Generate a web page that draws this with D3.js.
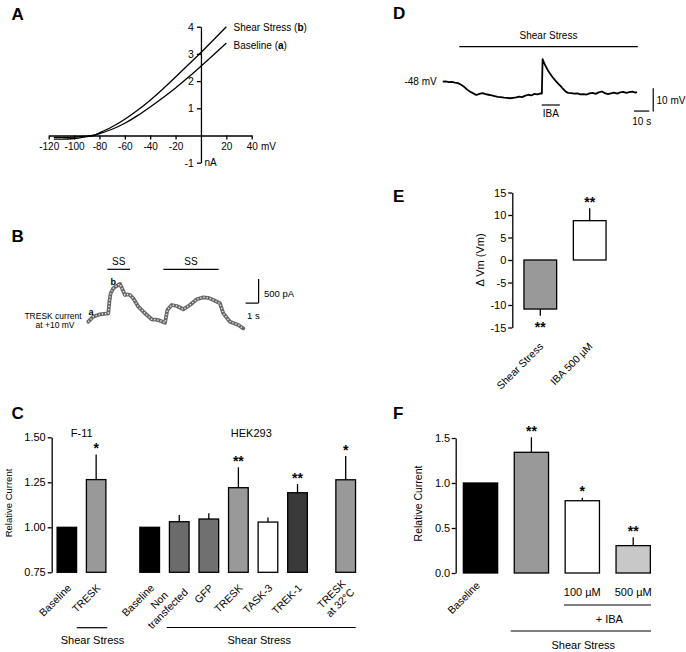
<!DOCTYPE html>
<html><head><meta charset="utf-8">
<script src="https://cdn.jsdelivr.net/npm/d3@7"></script>
<style>
body{margin:0;background:#fff}
svg{display:block;background:#fff}
text{font-family:'Liberation Sans',Arial,Helvetica,sans-serif;fill:#000}
</style>
</head><body><script>
// ---------- Panel A: I-V curves ----------
const ivVoltage  = [-116,-110,-100,-90,-85,-80,-70,-60,-50,-40,-30,-20,-10,0,10,20];
const ivShear    = [-0.07,-0.07,-0.06,-0.02,0.0,0.1,0.32,0.6,0.93,1.3,1.71,2.15,2.6,3.05,3.52,4.0];
const ivBaseline = [-0.13,-0.13,-0.11,-0.04,0.0,0.07,0.23,0.45,0.73,1.05,1.39,1.75,2.14,2.55,2.97,3.4];
const ivXTicks = [-120,-100,-80,-60,-40,-20,20,40];
const ivYTicks = [-1,1,2,3,4];

// ---------- Panel B: TRESK current trace ----------
const trTime    = [0,0.38,0.9,1.54,1.62,1.72,1.92,2.18,2.44,2.65,2.82,3.0,3.21,3.46,3.85,4.36,4.88,5.2,5.52,5.9,6.08,6.42,6.8,7.31,7.82,8.34,8.85,9.2,9.49,10.13,10.38,10.9,11.54,11.92];
const trCurrent = [173,277,327,348,590,765,869,917,958,833,729,740,729,660,485,348,223,215,194,152,417,521,500,431,521,640,681,670,640,556,348,173,104,35];
const ssPeriods = [[1.46,3.21],[5.77,10.03]];

// ---------- Panel C ----------
const cCategories = ["Baseline","TRESK","Baseline","Non|transfected","GFP","TRESK","TASK-3","TREK-1","TRESK|at 32°C"];
const cGroup      = ["f11","f11","hek","hek","hek","hek","hek","hek","hek32"];
const cValues     = [1.00,1.265,1.00,1.031,1.046,1.22,1.029,1.192,1.264];
const cErrors     = [0,0.14,0,0.037,0.032,0.113,0.026,0.048,0.132];
const cStars      = ["","*","","","","**","","**","*"];
const cFills      = ["#000","#999","#000","#6b6b6b","#707070","#999","#fff","#3a3a3a","#999"];
const cYTicks     = [0.75,1.00,1.25,1.50];

// ---------- Panel D: membrane potential trace ----------
const dTime = [0,2,4,6,8,10,12,14,16,18,20,22,24,26,28,30,32,34,36,38,40,42,44,46,48,50,52,54,56,58,60,62,64,64.8,65.3,66,67,68,69,70,71,72,73,74,75,76,77,78,79,80,81,82,84,86,88,90,92,94,96,98,100,102,104,106,108,110,112,114,116,118,120,122,124,126,127];
const dVm   = [-48.0,-47.9,-48.2,-48.1,-48.4,-48.6,-49.3,-50.2,-51.4,-52.3,-53.0,-53.7,-53.2,-52.9,-53.3,-53.6,-53.9,-54.2,-54.5,-54.6,-54.8,-54.9,-55.1,-54.9,-54.7,-54.4,-54.6,-54.0,-53.6,-53.9,-53.2,-53.4,-53.0,-53.1,-38.3,-39.5,-41.0,-42.2,-43.4,-44.4,-45.3,-46.2,-47.0,-47.8,-48.5,-49.2,-49.8,-50.6,-51.3,-52.0,-52.5,-52.8,-52.9,-53.1,-53.0,-53.4,-53.3,-53.5,-53.0,-52.8,-53.2,-52.6,-52.2,-52.9,-53.3,-53.0,-52.7,-53.1,-52.6,-52.4,-52.8,-52.5,-52.3,-52.7,-52.4];
const dShearPeriod = [10.8,127.5];
const dIbaPeriod   = [64.7,76.6];

// ---------- Panel E ----------
const eCategories = ["Shear Stress","IBA 500 µM"];
const eValues = [-10.9,8.74];
const eErrors = [1.5,2.76];
const eStars  = ["**","**"];
const eFills  = ["#999","#fff"];
const eYTicks = [-15,-10,-5,0,5,10,15];

// ---------- Panel F ----------
const fCategories = ["Baseline","Shear","100 µM","500 µM"];
const fValues = [1.00,1.341,0.803,0.304];
const fErrors = [0,0.167,0.033,0.093];
const fStars  = ["","**","*","**"];
const fFills  = ["#000","#999","#fff","#c8c8c8"];
const fYTicks = [0,0.5,1.0,1.5];

// =====================================================
const svg = d3.select('body').append('svg').attr('width',686).attr('height',652);
const plain = d => String(d);

function txt(x,y,s,size,anchor,bold){
  const t = svg.append('text').attr('x',x).attr('y',y).attr('font-size',size).attr('text-anchor',anchor||'start').text(s);
  if(bold) t.attr('font-weight','bold');
  return t;
}
function ln(x1,y1,x2,y2,w){
  svg.append('line').attr('x1',x1).attr('y1',y1).attr('x2',x2).attr('y2',y2).attr('stroke','#000').attr('stroke-width',w||1.2);
}
function styleAxis(g,size){
  g.selectAll('path.domain').attr('stroke','#000').attr('stroke-width',1.3);
  g.selectAll('.tick line').attr('stroke','#000').attr('stroke-width',1.3);
  g.selectAll('.tick text').attr('font-size',size);
}
function rotLabel(x,y,lines,size){
  const g = svg.append('g').attr('transform',`translate(${x},${y}) rotate(-45)`);
  const lh = size*1.15, n = lines.length;
  const ts = lines.map((s,i)=>g.append('text').attr('font-size',size).attr('y',(i-(n-1)/2)*lh).attr('dy','0.35em').text(s));
  const maxL = d3.max(ts.map(t=>t.node().getComputedTextLength()));
  ts.forEach(t=>t.attr('text-anchor','middle').attr('x',-maxL/2));
}
function vLabel(x,y,s,size){
  svg.append('text').attr('transform',`translate(${x},${y}) rotate(-90)`).attr('text-anchor','middle').attr('font-size',size).text(s);
}

// Panel letters
[["A",11.5,19.5],["B",11.5,241.5],["C",11.5,418.5],["D",393,18.5],["E",393,201.5],["F",393,418.5]]
  .forEach(([s,x,y])=>txt(x,y,s,17,'start',true));

// ---------- Panel A ----------
{
  const xA = d3.scaleLinear().domain([-120,40]).range([48.7,251.7]);
  const yA = d3.scaleLinear().domain([-1,4]).range([162.7,26.7]);
  const gx = svg.append('g').attr('transform',`translate(0,${yA(0)})`)
    .call(d3.axisBottom(xA).tickValues(ivXTicks).tickFormat(plain).tickSize(4).tickSizeOuter(0).tickPadding(3));
  styleAxis(gx,10);
  const gy = svg.append('g').attr('transform',`translate(${xA(0)},0)`)
    .call(d3.axisLeft(yA).tickValues(ivYTicks).tickFormat(plain).tickSize(4).tickSizeOuter(0).tickPadding(3));
  styleAxis(gy,10.5);
  txt(261,150.3,"mV",10);
  txt(204.5,166.3,"nA",10);
  const line = d3.line().x(d=>xA(d[0])).y(d=>yA(d[1])).curve(d3.curveMonotoneX);
  [ivShear,ivBaseline].forEach(arr=>{
    svg.append('path').attr('d',line(ivVoltage.map((v,i)=>[v,arr[i]]))).attr('fill','none').attr('stroke','#000').attr('stroke-width',1.3);
  });
  const t1 = txt(233.5,30.8,"Shear Stress (",10);
  t1.append('tspan').attr('font-weight','bold').text('b'); t1.append('tspan').text(')');
  const t2 = txt(233.5,49.3,"Baseline (",10);
  t2.append('tspan').attr('font-weight','bold').text('a'); t2.append('tspan').text(')');
}

// ---------- Panel B ----------
{
  const xB = d3.scaleLinear().domain([0,12]).range([88.3,244.3]);
  const yB = d3.scaleLinear().domain([0,1000]).range([330,282]);
  const line = d3.line().x((d,i)=>xB(trTime[i])).y((d,i)=>yB(trCurrent[i]));
  const d = line(trTime);
  svg.append('path').attr('d',d).attr('fill','none').attr('stroke','#666').attr('stroke-width',3.8).attr('stroke-linejoin','round').attr('stroke-linecap','round');
  svg.append('path').attr('d',d).attr('fill','none').attr('stroke','#e4e4e4').attr('stroke-width',1.5).attr('stroke-dasharray','1.3 1.9');
  ssPeriods.forEach(([a,b])=>{
    ln(xB(a),269.3,xB(b),269.3,1.2);
    txt((xB(a)+xB(b))/2,265.3,"SS",10,'middle');
  });
  // scale bars: 1 s, 500 pA
  ln(xB(12.1),yB(560),xB(13.1),yB(560),1.2);
  ln(xB(13.1),yB(560),xB(13.1),yB(1060),1.2);
  txt(264,296.5,"500 pA",9.5);
  txt(247,318.5,"1 s",9.5);
  txt(53,319,"TRESK current",8.5,'middle');
  txt(55,328.3,"at +10 mV",8.5,'middle');
  txt(88.5,315,"a",9,'start',true);
  txt(110.5,285,"b",9,'start',true);
}

// bar helper
function drawBars(xs, yScale, base, values, errors, stars, fills){
  values.forEach((v,i)=>{
    const x = xs[i].x, w = xs[i].w;
    const y0 = yScale(base), y1 = yScale(v);
    svg.append('rect').attr('x',x).attr('y',Math.min(y0,y1)).attr('width',w).attr('height',Math.abs(y1-y0))
      .attr('fill',fills[i]).attr('stroke','#000').attr('stroke-width',1.3);
    const cx = x+w/2;
    if(errors[i]>0){
      const ye = v>=base ? yScale(v+errors[i]) : yScale(v-errors[i]);
      ln(cx,y1,cx,ye,1.3);
    }
    if(stars[i]){
      if(v>=base){
        const ye = yScale(v+errors[i]);
        txt(cx,ye-1.5,stars[i],14,'middle',true);
      } else {
        const ye = yScale(v-errors[i]);
        txt(cx,ye+16,stars[i],14,'middle',true);
      }
    }
  });
}

// ---------- Panel C ----------
{
  const yC = d3.scaleLinear().domain([0.75,1.5]).range([572.3,437.3]);
  const gy = svg.append('g').attr('transform','translate(51.7,0)')
    .call(d3.axisLeft(yC).tickValues(cYTicks).tickFormat(d3.format('.2f')).tickSize(4).tickSizeOuter(0).tickPadding(2));
  styleAxis(gy,11);
  vLabel(11.5,503,"Relative Current",9.5);
  const ranges = {f11:[52.2,110.8], hek:[134.9,312.3], hek32:[330.9,360.5]};
  const xs = [];
  Object.keys(ranges).forEach(gname=>{
    const idx = cGroup.map((g,i)=>g===gname?i:-1).filter(i=>i>=0);
    const sc = d3.scaleBand().domain(idx).range(ranges[gname]).paddingInner(0.335).paddingOuter(0.1675);
    idx.forEach(i=>{ xs[i] = {x:sc(i), w:sc.bandwidth()}; });
  });
  drawBars(xs,yC,0.75,cValues,cErrors,cStars,cFills);
  cCategories.forEach((c,i)=>{
    rotLabel(xs[i].x+xs[i].w/2+2.5, 586, c.split('|'), 10.5);
  });
  txt(81.7,436.5,"F-11",11,'middle');
  txt(251.3,436.5,"HEK293",11,'middle');
  ln(76.7,627.7,107.3,627.7,1.2);
  txt(92.5,644,"Shear Stress",11,'middle');
  ln(166.7,627.5,355.7,627.5,1.2);
  txt(259.3,644,"Shear Stress",11,'middle');
}

// ---------- Panel D ----------
{
  const xD = d3.scaleLinear().domain([0,130]).range([442.7,641.6]);
  const yD = d3.scaleLinear().domain([-48,-58]).range([81.7,105]);
  const line = d3.line().x((d,i)=>xD(dTime[i])).y((d,i)=>yD(dVm[i]));
  svg.append('path').attr('d',line(dTime)).attr('fill','none').attr('stroke','#000').attr('stroke-width',1.8).attr('stroke-linejoin','round');
  ln(xD(dShearPeriod[0]),46.7,xD(dShearPeriod[1]),46.7,1.2);
  txt((xD(dShearPeriod[0])+xD(dShearPeriod[1]))/2,39,"Shear Stress",10,'middle');
  ln(xD(dIbaPeriod[0]),105,xD(dIbaPeriod[1]),105,1.2);
  txt((xD(dIbaPeriod[0])+xD(dIbaPeriod[1]))/2,117.3,"IBA",10,'middle');
  txt(436.7,85,"-48 mV",10,'end');
  ln(xD(125),yD(-60.6),xD(135),yD(-60.6),1.2);
  ln(xD(137.6),yD(-50.8),xD(137.6),yD(-60.8),1.2);
  txt(656.5,104,"10 mV",10);
  txt(641.7,125,"10 s",10,'middle');
}

// ---------- Panel E ----------
{
  const yE = d3.scaleLinear().domain([-15,15]).range([327.5,192.5]);
  const gy = svg.append('g').attr('transform','translate(512.3,0)')
    .call(d3.axisLeft(yE).tickValues(eYTicks).tickFormat(plain).tickSize(4).tickSizeOuter(0).tickPadding(2));
  styleAxis(gy,11);
  vLabel(484,260,"Δ Vm (Vm)",11);
  const sc = d3.scaleBand().domain(eCategories).range([515.6,614.4]).paddingInner(0.338).paddingOuter(0.169);
  const xs = eCategories.map(c=>({x:sc(c),w:sc.bandwidth()}));
  drawBars(xs,yE,0,eValues,eErrors,eStars,eFills);
  eCategories.forEach((c,i)=>rotLabel(xs[i].x+xs[i].w/2+1,344.5,[c],10.5));
}

// ---------- Panel F ----------
{
  const yF = d3.scaleLinear().domain([0,1.5]).range([573,438]);
  const gy = svg.append('g').attr('transform','translate(455.7,0)')
    .call(d3.axisLeft(yF).tickValues(fYTicks).tickFormat(d3.format('.1f')).tickSize(4).tickSizeOuter(0).tickPadding(1.5));
  styleAxis(gy,11);
  vLabel(421.5,503.5,"Relative Current",10.5);
  const sc = d3.scaleBand().domain(fCategories).range([455.05,658.65]).paddingInner(0.326).paddingOuter(0.163);
  const xs = fCategories.map(c=>({x:sc(c),w:sc.bandwidth()}));
  drawBars(xs,yF,0,fValues,fErrors,fStars,fFills);
  rotLabel(xs[0].x+xs[0].w/2-2.5,583.5,["Baseline"],10.5);
  txt(xs[2].x+xs[2].w/2,595.5,fCategories[2],11,'middle');
  txt(xs[3].x+xs[3].w/2,595.5,fCategories[3],11,'middle');
  ln(564,605,651,605,1.2);
  txt(609.3,623,"+ IBA",11,'middle');
  ln(510.7,631,651,631,1.2);
  txt(583.3,649,"Shear Stress",11,'middle');
}
</script></body></html>
